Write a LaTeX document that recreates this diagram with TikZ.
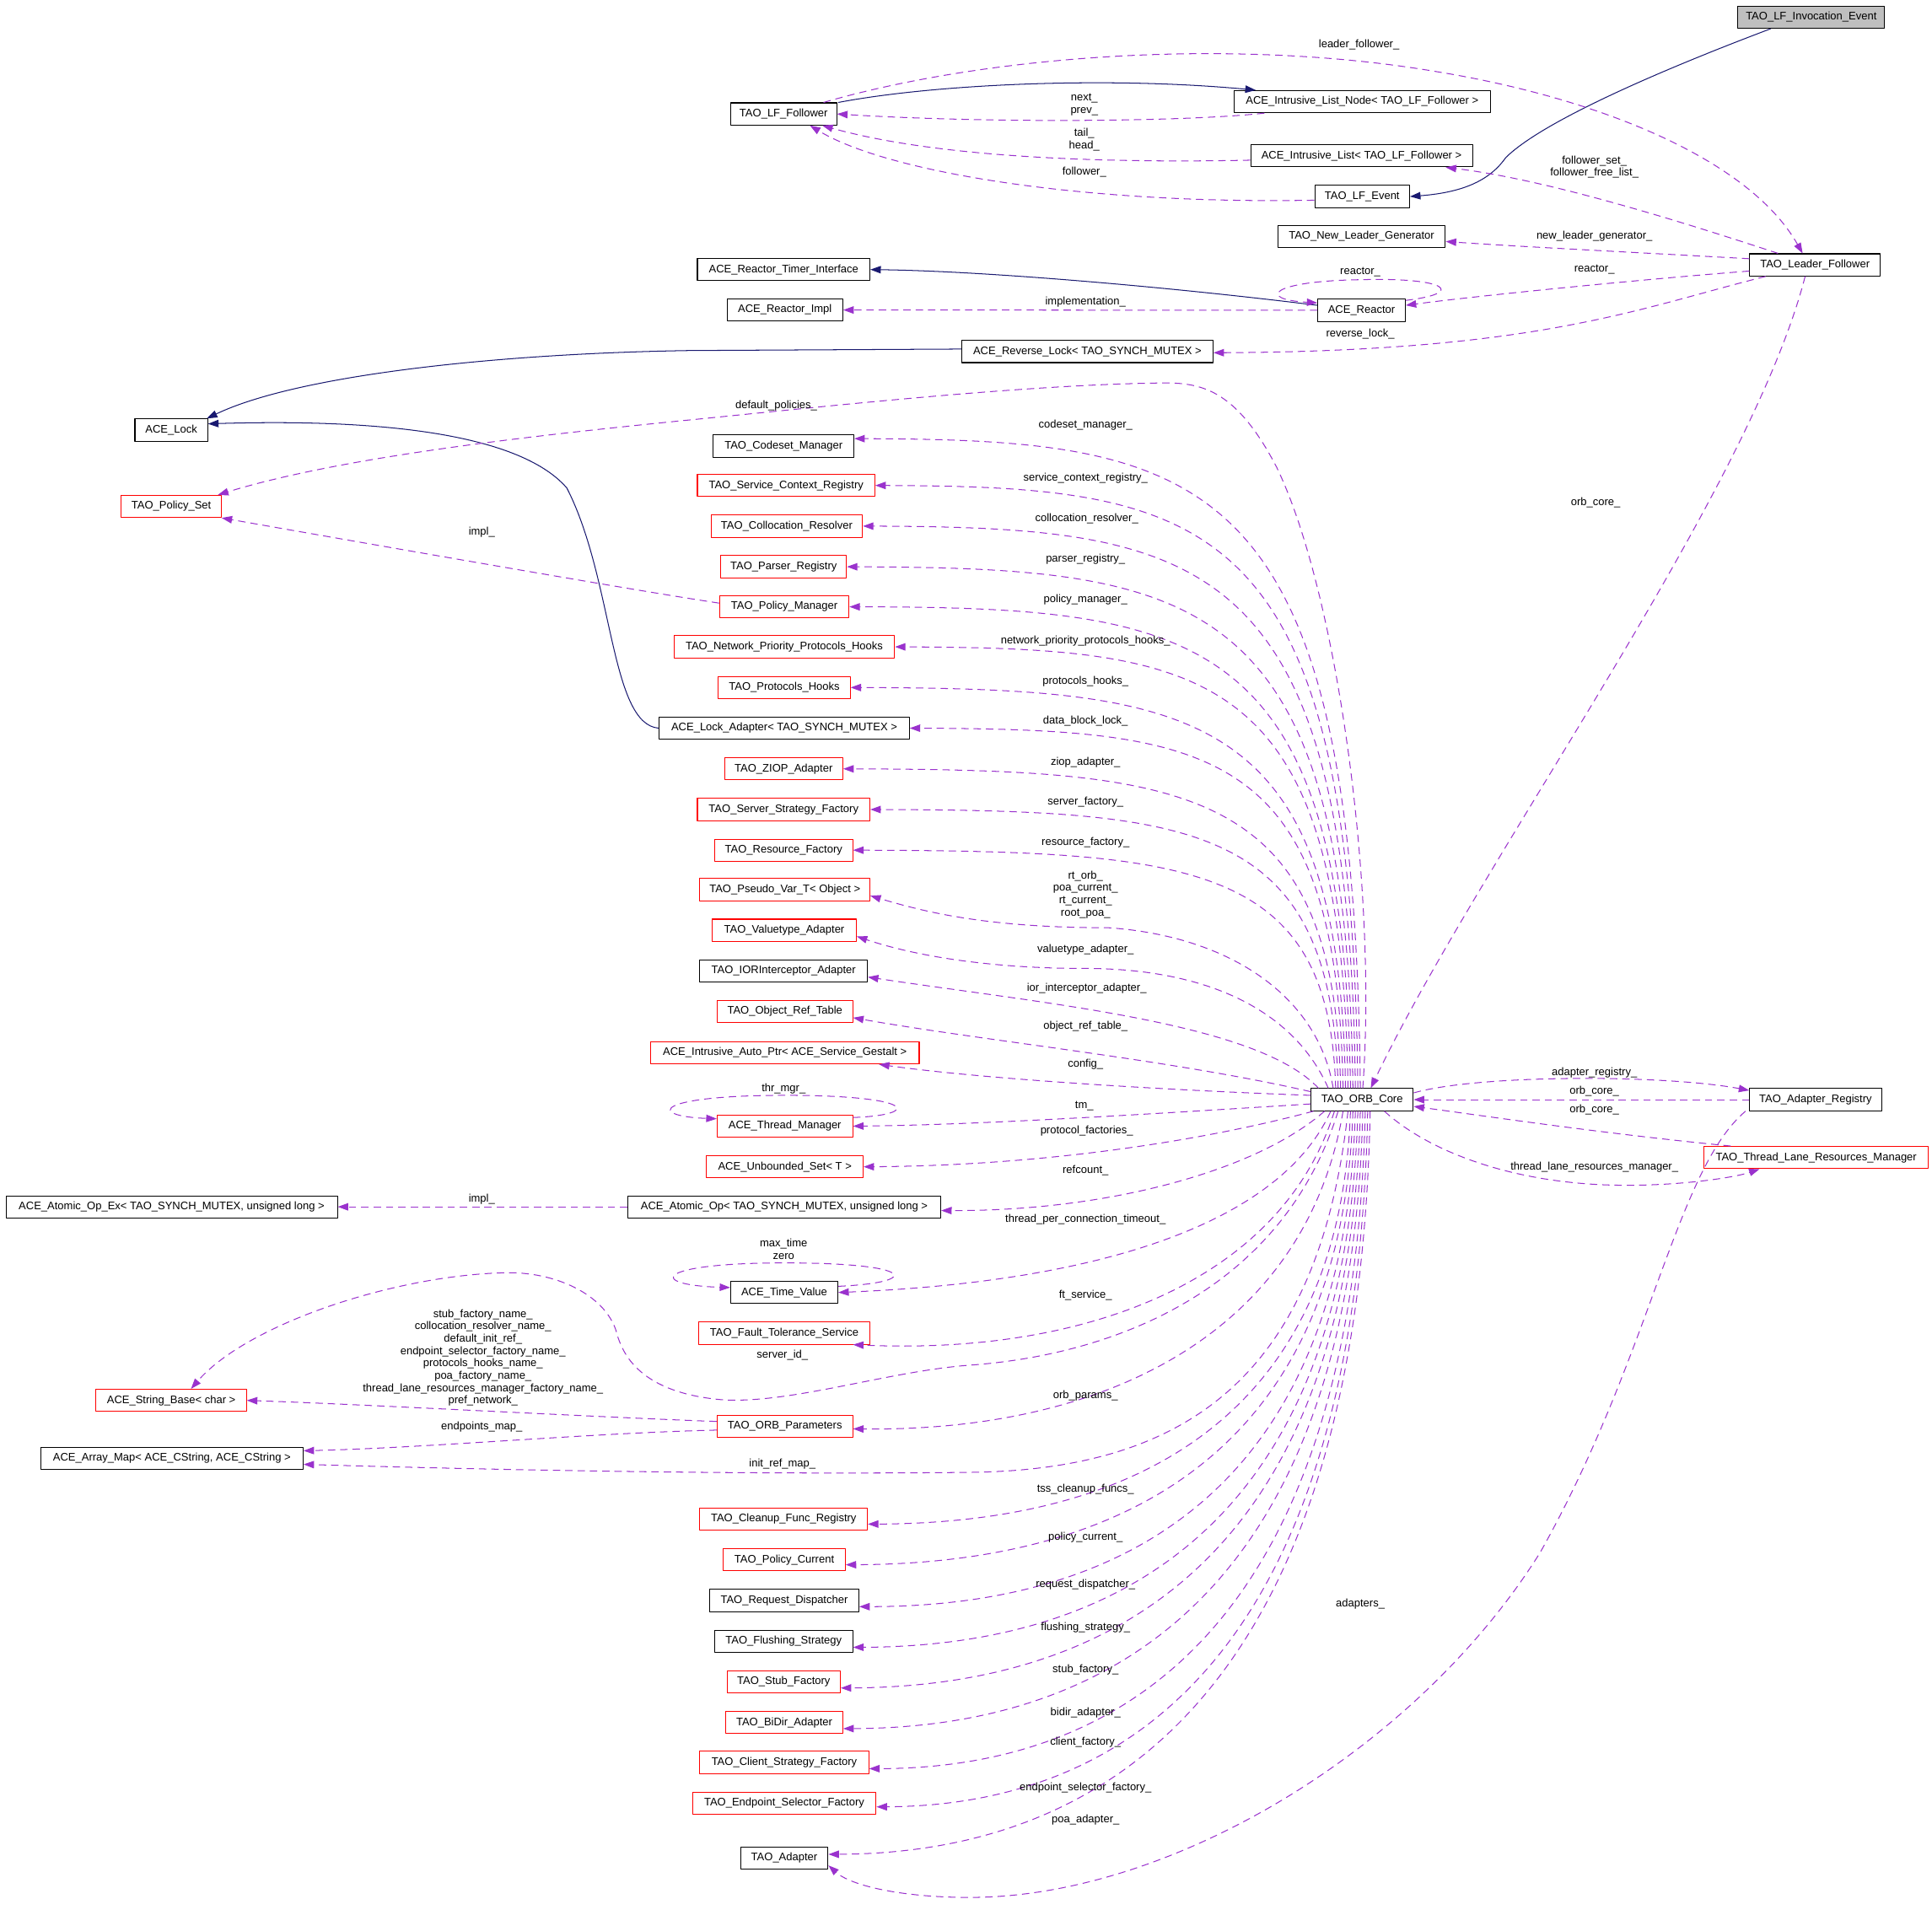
\documentclass[tikz,border=0pt]{standalone}
\usepackage{fontspec}
\setmainfont{Liberation Sans}
\usetikzlibrary{arrows.meta,calc}
\definecolor{navyc}{HTML}{191970}
\definecolor{purpc}{HTML}{9A32CD}
\definecolor{boxgray}{HTML}{BFBFBF}
\newcommand\dxfont{\fontsize{8.9}{10}\selectfont}
\begin{document}
\begin{tikzpicture}[x=1pt,y=-1pt,line join=round,
  box/.style={draw=black,line width=0.7pt,minimum height=18pt,inner xsep=2pt,inner ysep=0pt,font=\dxfont},
  rbox/.style={box,draw=red},
  lbl/.style={font=\dxfont,inner sep=0pt,align=center},
  use/.style={draw=purpc,line width=0.7pt,dash pattern=on 6pt off 4pt,-{Triangle[length=8.5pt,width=6pt]}},
  inh/.style={draw=navyc,line width=0.7pt,-{Triangle[length=8.5pt,width=6pt]}}]
\fill[white] (0,0) rectangle (1568,1563);
\useasboundingbox (0,0) rectangle (1568,1563);
% ---------------- nodes
\node[box,fill=boxgray,minimum width=119pt] (inv) at (1470,14) {TAO\_LF\_Invocation\_Event};
\node[box,minimum width=86pt] (lff) at (636,92.5) {TAO\_LF\_Follower};
\node[box,minimum width=208pt] (iln) at (1105.5,82.5) {ACE\_Intrusive\_List\_Node< TAO\_LF\_Follower >};
\node[box,minimum width=180pt] (il) at (1105,126.5) {ACE\_Intrusive\_List< TAO\_LF\_Follower >};
\node[box,minimum width=77pt] (lfe) at (1105.5,159.5) {TAO\_LF\_Event};
\node[box,minimum width=136pt] (nlg) at (1105,192) {TAO\_New\_Leader\_Generator};
\node[box,minimum width=106pt] (ldf) at (1473,215) {TAO\_Leader\_Follower};
\node[box,minimum width=140pt] (rti) at (636,218.8) {ACE\_Reactor\_Timer\_Interface};
\node[box,minimum width=94pt] (rim) at (637,251.6) {ACE\_Reactor\_Impl};
\node[box,minimum width=71pt] (rea) at (1105,251.8) {ACE\_Reactor};
\node[box,minimum width=204pt] (rvl) at (882.5,285.3) {ACE\_Reverse\_Lock< TAO\_SYNCH\_MUTEX >};
\node[box,minimum width=59pt] (lock) at (139,349) {ACE\_Lock};
\node[box,minimum width=114pt] (csm) at (636,362) {TAO\_Codeset\_Manager};
\node[rbox,minimum width=81pt] (pset) at (139,411) {TAO\_Policy\_Set};
\node[rbox,minimum width=144pt] (scr) at (638,394) {TAO\_Service\_Context\_Registry};
\node[rbox,minimum width=123pt] (clr) at (638.5,427) {TAO\_Collocation\_Resolver};
\node[rbox,minimum width=102pt] (prr) at (636,460) {TAO\_Parser\_Registry};
\node[rbox,minimum width=105pt] (pmg) at (636.5,492.5) {TAO\_Policy\_Manager};
\node[rbox,minimum width=179pt] (nph) at (636.5,525) {TAO\_Network\_Priority\_Protocols\_Hooks};
\node[rbox,minimum width=107pt] (phk) at (636.5,558) {TAO\_Protocols\_Hooks};
\node[box,minimum width=203pt] (lad) at (636.5,591) {ACE\_Lock\_Adapter< TAO\_SYNCH\_MUTEX >};
\node[rbox,minimum width=96pt] (ziop) at (636,624) {TAO\_ZIOP\_Adapter};
\node[rbox,minimum width=140pt] (ssf) at (636,657) {TAO\_Server\_Strategy\_Factory};
\node[rbox,minimum width=112pt] (rsf) at (636,690) {TAO\_Resource\_Factory};
\node[rbox,minimum width=138pt] (pvt) at (637,722) {TAO\_Pseudo\_Var\_T< Object >};
\node[rbox,minimum width=117pt] (vta) at (636.5,755) {TAO\_Valuetype\_Adapter};
\node[box,minimum width=136pt] (iora) at (636,788) {TAO\_IORInterceptor\_Adapter};
\node[rbox,minimum width=110pt] (ort) at (637,821) {TAO\_Object\_Ref\_Table};
\node[rbox,minimum width=218pt] (iap) at (637,854.5) {ACE\_Intrusive\_Auto\_Ptr< ACE\_Service\_Gestalt >};
\node[box,minimum width=83pt] (core) at (1105.5,892.5) {TAO\_ORB\_Core};
\node[box,minimum width=107pt] (areg) at (1473.5,892.5) {TAO\_Adapter\_Registry};
\node[rbox,minimum width=110pt] (thm) at (637,914) {ACE\_Thread\_Manager};
\node[rbox,minimum width=182pt] (tlrm) at (1474,939.5) {TAO\_Thread\_Lane\_Resources\_Manager};
\node[rbox,minimum width=127pt] (ubs) at (637,947) {ACE\_Unbounded\_Set< T >};
\node[box,minimum width=269pt] (aoex) at (139.3,979.5) {ACE\_Atomic\_Op\_Ex< TAO\_SYNCH\_MUTEX, unsigned long >};
\node[box,minimum width=254pt] (ao) at (636.5,979.5) {ACE\_Atomic\_Op< TAO\_SYNCH\_MUTEX, unsigned long >};
\node[box,minimum width=87pt] (tv) at (636.5,1049) {ACE\_Time\_Value};
\node[rbox,minimum width=139pt] (fts) at (636.5,1082) {TAO\_Fault\_Tolerance\_Service};
\node[rbox,minimum width=122pt] (sb) at (139,1136.6) {ACE\_String\_Base< char >};
\node[rbox,minimum width=110pt] (orbp) at (637,1157.7) {TAO\_ORB\_Parameters};
\node[box,minimum width=213pt] (am) at (139.5,1183.5) {ACE\_Array\_Map< ACE\_CString, ACE\_CString >};
\node[rbox,minimum width=136pt] (cfr) at (636,1233) {TAO\_Cleanup\_Func\_Registry};
\node[rbox,minimum width=99pt] (pcur) at (636.5,1266) {TAO\_Policy\_Current};
\node[box,minimum width=121pt] (rqd) at (636.5,1299) {TAO\_Request\_Dispatcher};
\node[box,minimum width=112pt] (fls) at (636,1332) {TAO\_Flushing\_Strategy};
\node[rbox,minimum width=92pt] (stf) at (636,1365) {TAO\_Stub\_Factory};
\node[rbox,minimum width=95pt] (bda) at (636.5,1398) {TAO\_BiDir\_Adapter};
\node[rbox,minimum width=137pt] (csf) at (636.5,1430.5) {TAO\_Client\_Strategy\_Factory};
\node[rbox,minimum width=149pt] (esf) at (636.5,1463.5) {TAO\_Endpoint\_Selector\_Factory};
\node[box,minimum width=71pt] (ad) at (636.5,1508) {TAO\_Adapter};
% ---------------- inheritance
\draw[inh] ([xshift=1pt]lff.north east) .. controls (760,68) and (900,62) .. ([xshift=18pt]iln.north west);
\draw[inh] ([xshift=-33pt]inv.south) .. controls (1340,60) and (1250,100) .. (1222,128) .. controls (1210,145) and (1190,156) .. (lfe.east);
\draw[inh] ([yshift=4pt]rea.west) .. controls (950,233) and (800,220) .. (rti.east);
\draw[inh] ([yshift=2pt]rvl.west) -- (560,284.5) .. controls (400,287) and (240,305) .. ([xshift=-1pt]lock.north east);
\draw[inh] (lad.west) .. controls (495,588) and (498,470) .. (460,396) .. controls (420,350) and (300,340) .. ([yshift=5pt]lock.east);
% ---------------- top usage
\draw[use] ([xshift=-11pt]lff.north east) .. controls (800,45) and (1000,30) .. (1165,58) .. controls (1300,80) and (1420,130) .. ([xshift=-10pt]ldf.north);
\draw[use] ([xshift=25pt]iln.south west) .. controls (960,99) and (800,100) .. (lff.east);
\draw[use] ([yshift=-3.5pt]il.west) .. controls (870,133) and (750,125) .. ([xshift=-12pt]lff.south east);
\draw[use] ([yshift=-3pt]lfe.west) .. controls (880,166) and (720,140) .. ([xshift=-22pt]lff.south east);
\draw[use] ([xshift=-30pt]ldf.north) .. controls (1350,175) and (1250,145) .. ([xshift=-22pt]il.south east);
\draw[use] ([yshift=5pt]ldf.west) .. controls (1330,205) and (1230,200) .. ([yshift=-4pt]nlg.east);
\draw[use] ([yshift=-5pt]ldf.west) .. controls (1330,227) and (1200,240) .. ([yshift=4pt]rea.east);
\draw[use] ([yshift=8pt]rea.east) .. controls (1190,238) and (1175,225) .. (1105,227) .. controls (1030,228) and (1020,243) .. ([yshift=6pt]rea.west);
\draw[use] ([xshift=-40pt]ldf.south) .. controls (1330,250) and (1250,285) .. ([yshift=-1pt]rvl.east);
\draw[use] (rea.west) -- (rim.east);
\draw[use] ([xshift=-8pt]ldf.south) .. controls (1420,400) and (1200,700) .. ([xshift=7pt]core.north);
\draw[use] ([xshift=0.5pt]core.north) .. controls (1118,720) and (1085,480) .. (1036,379) .. controls (1000,310) and (970,310) .. (934,311) .. controls (820,313) and (650,332) .. (548,342) .. controls (440,353) and (280,370) .. ([xshift=-3pt]pset.north east);
\draw[use] ([yshift=3pt]pmg.west) .. controls (520,480) and (320,445) .. (pset.south east);
% ---------------- ORB core, upper fan
\draw[use] ([xshift=-1.5pt]core.north) .. controls (1099,382) and (981,357) .. ([yshift=6pt]csm.east);
\draw[use] ([xshift=-3.5pt]core.north) .. controls (1097,418) and (984,395) .. (scr.east);
\draw[use] ([xshift=-5.5pt]core.north) .. controls (1095,450) and (980,428) .. (clr.east);
\draw[use] ([xshift=-7.5pt]core.north) .. controls (1093,481) and (975,461) .. (prr.east);
\draw[use] ([xshift=-9.5pt]core.north) .. controls (1091,512) and (974,493) .. (pmg.east);
\draw[use] ([xshift=-11.5pt]core.north) .. controls (1089,543) and (984,526) .. (nph.east);
\draw[use] ([xshift=-13.5pt]core.north) .. controls (1087,574) and (971,559) .. (phk.east);
\draw[use] ([xshift=-15.5pt]core.north) .. controls (1085,606) and (984,592) .. (lad.east);
\draw[use] ([xshift=-17.5pt]core.north) .. controls (1083,637) and (967,625) .. (ziop.east);
\draw[use] ([xshift=-19.5pt]core.north) .. controls (1081,668) and (972,658) .. (ssf.east);
\draw[use] ([xshift=-21.5pt]core.north) .. controls (1079,700) and (966,691) .. (rsf.east);
\draw[use] ([xshift=-23.5pt]core.north) .. controls (1070,810) and (1000,760) .. (900,753) .. controls (800,753) and (750,740) .. ([yshift=-5pt]pvt.east);
\draw[use] ([xshift=-27.5pt]core.north) .. controls (1050,820) and (980,786) .. (880,786) .. controls (800,786) and (740,775) .. ([yshift=-5pt]vta.east);
\draw[use] ([xshift=-35.5pt]core.north) .. controls (1020,830) and (850,815) .. ([yshift=-5pt]iora.east);
\draw[use] ([yshift=6.5pt]core.west) .. controls (950,860) and (800,845) .. ([yshift=-5pt]ort.east);
\draw[use] ([yshift=3.5pt]core.west) .. controls (950,885) and (800,876) .. ([xshift=-33pt]iap.south east);
\draw[use] ([yshift=-3.5pt]core.west) .. controls (950,903) and (800,913) .. (thm.east);
% ---------------- ORB core, lower fan
\draw[use] ([xshift=-39.5pt]core.south) .. controls (980,925) and (850,946) .. (ubs.east);
\draw[use] ([xshift=-30.5pt]core.south) .. controls (1020,950) and (900,983) .. ([yshift=-3pt]ao.east);
\draw[use] ([xshift=-25.5pt]core.south) .. controls (1040,990) and (900,1040) .. (tv.east);
\draw[use] ([xshift=-22.5pt]core.south) .. controls (1040,1040) and (880,1100) .. ([xshift=-14pt]fts.south east);
\draw[use] ([xshift=-19.5pt]core.south) .. controls (1040,1050) and (900,1100) .. (787,1108) .. controls (720,1113) and (640,1140) .. (585,1136) .. controls (520,1130) and (505,1100) .. (500,1080) .. controls (490,1050) and (450,1032) .. (410,1033) .. controls (320,1035) and (200,1075) .. ([xshift=16pt]sb.north);
\draw[use] ([xshift=-15.5pt]core.south) .. controls (1060,1080) and (900,1162) .. ([yshift=-2pt]orbp.east);
\draw[use] ([xshift=-11.5pt]core.south) .. controls (1070,1120) and (960,1193) .. (787,1195) .. controls (600,1197) and (400,1193) .. ([yshift=-5pt]am.east);
\draw[use] ([xshift=-9.5pt]core.south) .. controls (1088,1136) and (939,1236) .. ([yshift=-4pt]cfr.east);
\draw[use] ([xshift=-7.5pt]core.south) .. controls (1090,1159) and (934,1269) .. ([yshift=-4pt]pcur.east);
\draw[use] ([xshift=-5.5pt]core.south) .. controls (1092,1183) and (939,1304) .. ([yshift=-5pt]rqd.east);
\draw[use] ([xshift=-3.5pt]core.south) .. controls (1094,1206) and (938,1336) .. ([yshift=-5pt]fls.east);
\draw[use] ([xshift=-1.5pt]core.south) .. controls (1096,1229) and (936,1369) .. ([yshift=-5pt]stf.east);
\draw[use] ([xshift=0.5pt]core.south) .. controls (1098,1252) and (937,1402) .. ([yshift=-5pt]bda.east);
\draw[use] ([xshift=2.5pt]core.south) .. controls (1100,1275) and (947,1435) .. ([yshift=-5pt]csf.east);
\draw[use] ([xshift=4.5pt]core.south) .. controls (1102,1296) and (950,1465) .. ([yshift=-3pt]esf.east);
\draw[use] ([xshift=6.5pt]core.south) .. controls (1104,1324) and (936,1504) .. ([yshift=3pt]ad.east);
% ---------------- left side small edges
\draw[use] (ao.west) -- (aoex.east);
\draw[use] ([yshift=4pt]orbp.west) .. controls (480,1150) and (300,1140) .. (sb.east);
\draw[use] ([yshift=-3pt]orbp.west) .. controls (480,1163) and (350,1175) .. ([yshift=6pt]am.east);
\draw[use] ([yshift=7pt]thm.east) .. controls (748,905) and (745,889) .. (637,889) .. controls (530,889) and (525,906) .. ([yshift=6pt]thm.west);
\draw[use] ([yshift=5pt]tv.east) .. controls (748,1041) and (745,1025) .. (637,1025) .. controls (530,1025) and (525,1043) .. ([yshift=4pt]tv.west);
% ---------------- right side
\draw[use] ([yshift=5.5pt]core.east) .. controls (1200,872) and (1350,872) .. ([yshift=7.5pt]areg.west);
\draw[use] (areg.west) -- (core.east);
\draw[use] ([xshift=22pt]tlrm.north west) .. controls (1300,920) and (1200,905) .. ([yshift=-5.5pt]core.east);
\draw[use] ([xshift=18pt]core.south) .. controls (1160,935) and (1230,962) .. (1320,962) .. controls (1370,962) and (1410,955) .. ([xshift=-46pt]tlrm.south);
\draw[use] ([xshift=-3pt]areg.south west) .. controls (1360,950) and (1340,1100) .. (1250,1260) .. controls (1150,1420) and (950,1540) .. (787,1540) .. controls (730,1540) and (690,1530) .. ([yshift=-6pt]ad.east);
% ---------------- labels
\node[lbl] (l1) at (1103,36) {leader\_follower\_};
\node[lbl] (l2) at (880,85) {next\_\\prev\_};
\node[lbl] (l3) at (880,113.5) {tail\_\\head\_};
\node[lbl] (l4) at (880,140) {follower\_};
\node[lbl] (l5) at (1294,135.5) {follower\_set\_\\follower\_free\_list\_};
\node[lbl] (l6) at (1294,192) {new\_leader\_generator\_};
\node[lbl] (l7) at (1294,219) {reactor\_};
\node[lbl] (l8) at (1104,221) {reactor\_};
\node[lbl] (l9) at (881,245) {implementation\_};
\node[lbl] (l10) at (1104,271) {reverse\_lock\_};
\node[lbl] (l11) at (1295,408) {orb\_core\_};
\node[lbl] (l12) at (630,329) {default\_policies\_};
\node[lbl] (l13) at (391,432) {impl\_};
\node[lbl] (l14) at (881,345) {codeset\_manager\_};
\node[lbl] (l15) at (881,388) {service\_context\_registry\_};
\node[lbl] (l16) at (882,421) {collocation\_resolver\_};
\node[lbl] (l17) at (881,454) {parser\_registry\_};
\node[lbl] (l18) at (881,487) {policy\_manager\_};
\node[lbl] (l19) at (881,520) {network\_priority\_protocols\_hooks\_};
\node[lbl] (l20) at (881,553) {protocols\_hooks\_};
\node[lbl] (l21) at (881,585) {data\_block\_lock\_};
\node[lbl] (l22) at (881,619) {ziop\_adapter\_};
\node[lbl] (l23) at (881,651) {server\_factory\_};
\node[lbl] (l24) at (881,684) {resource\_factory\_};
\node[lbl] (l25) at (881,726) {rt\_orb\_\\poa\_current\_\\rt\_current\_\\root\_poa\_};
\node[lbl] (l26) at (881,771) {valuetype\_adapter\_};
\node[lbl] (l27) at (882,802) {ior\_interceptor\_adapter\_};
\node[lbl] (l28) at (881,833) {object\_ref\_table\_};
\node[lbl] (l29) at (881,864) {config\_};
\node[lbl] (l30) at (636,884) {thr\_mgr\_};
\node[lbl] (l31) at (880,898) {tm\_};
\node[lbl] (l32) at (882,918) {protocol\_factories\_};
\node[lbl] (l33) at (881,950) {refcount\_};
\node[lbl] (l34) at (391,973) {impl\_};
\node[lbl] (l35) at (881,990) {thread\_per\_connection\_timeout\_};
\node[lbl] (l36) at (636,1014) {max\_time\\zero};
\node[lbl] (l37) at (881,1051) {ft\_service\_};
\node[lbl] (l38) at (635,1100) {server\_id\_};
\node[lbl] (l39) at (392,1102) {stub\_factory\_name\_\\collocation\_resolver\_name\_\\default\_init\_ref\_\\endpoint\_selector\_factory\_name\_\\protocols\_hooks\_name\_\\poa\_factory\_name\_\\thread\_lane\_resources\_manager\_factory\_name\_\\pref\_network\_};
\node[lbl] (l40) at (881,1133) {orb\_params\_};
\node[lbl] (l41) at (391,1158) {endpoints\_map\_};
\node[lbl] (l42) at (635,1188) {init\_ref\_map\_};
\node[lbl] (l43) at (881,1209) {tss\_cleanup\_funcs\_};
\node[lbl] (l44) at (881,1248) {policy\_current\_};
\node[lbl] (l45) at (881,1286) {request\_dispatcher\_};
\node[lbl] (l46) at (881,1321) {flushing\_strategy\_};
\node[lbl] (l47) at (881,1355) {stub\_factory\_};
\node[lbl] (l48) at (881,1390) {bidir\_adapter\_};
\node[lbl] (l49) at (881,1414) {client\_factory\_};
\node[lbl] (l50) at (881,1451) {endpoint\_selector\_factory\_};
\node[lbl] (l51) at (881,1477) {poa\_adapter\_};
\node[lbl] (l52) at (1104,1302) {adapters\_};
\node[lbl] (l53) at (1294,871) {adapter\_registry\_};
\node[lbl] (l54) at (1294,886) {orb\_core\_};
\node[lbl] (l55) at (1294,901) {orb\_core\_};
\node[lbl] (l56) at (1294,947) {thread\_lane\_resources\_manager\_};
\end{tikzpicture}
\end{document}
